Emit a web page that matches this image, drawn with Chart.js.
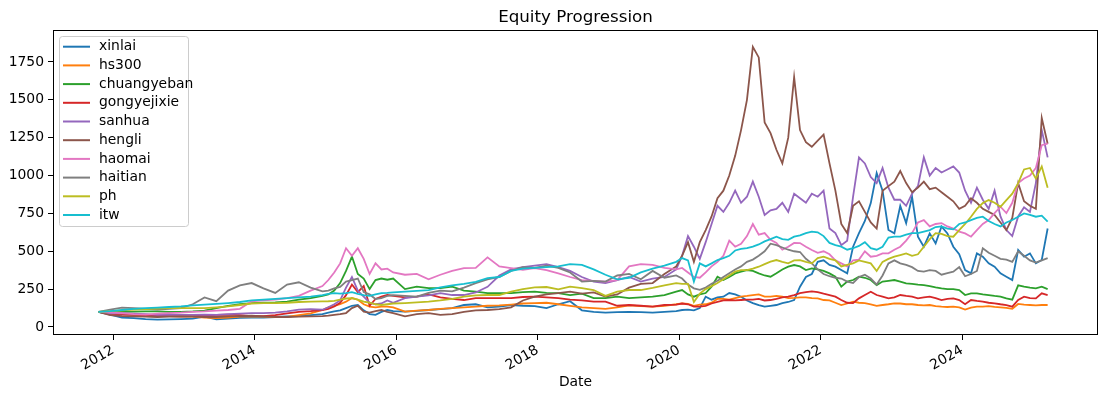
<!DOCTYPE html>
<html>
<head>
<meta charset="utf-8">
<script src="https://cdn.jsdelivr.net/npm/chart.js@4.4.1/dist/chart.umd.min.js"></script>
<style>
  body { margin: 0; background: #fff; }
  #wrap { width: 1110px; height: 393px; }
</style>
</head>
<body>
<div id="wrap"><canvas id="equityChart" width="1110" height="393"></canvas></div>
<script>
// sample dates (bi-monthly early, monthly for 2015 and from 2020)
const dates = [
  '2011-10', '2011-12',
  '2012-02', '2012-04', '2012-06', '2012-08', '2012-10', '2012-12',
  '2013-02', '2013-04', '2013-06', '2013-08', '2013-10', '2013-12',
  '2014-02', '2014-04', '2014-06', '2014-08', '2014-10', '2014-12',
  '2015-01', '2015-02', '2015-03', '2015-04', '2015-05', '2015-06', '2015-07', '2015-08', '2015-09', '2015-10', '2015-11', '2015-12',
  '2016-02', '2016-04', '2016-06', '2016-08', '2016-10', '2016-12',
  '2017-02', '2017-04', '2017-06', '2017-08', '2017-10', '2017-12',
  '2018-02', '2018-04', '2018-06', '2018-08', '2018-10', '2018-12',
  '2019-02', '2019-04', '2019-06', '2019-08', '2019-10', '2019-12',
  '2020-01', '2020-02', '2020-03', '2020-04', '2020-05', '2020-06', '2020-07', '2020-08', '2020-09', '2020-10', '2020-11', '2020-12',
  '2021-01', '2021-02', '2021-03', '2021-04', '2021-05', '2021-06', '2021-07', '2021-08', '2021-09', '2021-10', '2021-11', '2021-12',
  '2022-01', '2022-02', '2022-03', '2022-04', '2022-05', '2022-06', '2022-07', '2022-08', '2022-09', '2022-10', '2022-11', '2022-12',
  '2023-01', '2023-02', '2023-03', '2023-04', '2023-05', '2023-06', '2023-07', '2023-08', '2023-09', '2023-10', '2023-11', '2023-12',
  '2024-01', '2024-02', '2024-03', '2024-04', '2024-05', '2024-06', '2024-07', '2024-08', '2024-09', '2024-10', '2024-11', '2024-12',
  '2025-01', '2025-02', '2025-03'
];

const xinlai = [
  100, 82,
  62, 58, 52, 48, 50, 52,
  55, 68, 50, 55, 60, 62,
  62, 66, 70, 72, 78, 85,
  95, 103, 110, 125, 140, 145, 110, 85, 80, 100, 112, 105,
  101, 106, 112, 118, 125, 145,
  150, 130, 134, 145, 140, 138,
  125, 150, 170, 110, 100, 95,
  98, 100, 98, 95, 100, 105,
  112, 115, 110, 125, 200, 180, 195, 200, 224, 215, 200, 175,
  158, 145, 134, 140, 145, 158, 165, 178, 266, 330, 350, 430,
  440, 410, 398, 376, 354, 530, 620, 700, 818, 1016, 900, 640,
  618, 800, 686, 860, 596, 530, 618, 552, 664, 618, 530, 480,
  376, 354, 486, 464, 420, 398, 354, 332, 310, 508, 464, 486,
  420, 442, 650
];
const hs300 = [
  100, 88,
  85, 82, 78, 74, 72, 70,
  68, 62, 59, 62, 68, 70,
  68, 66, 66, 78, 90, 112,
  130, 140, 150, 167, 191, 180, 150, 134, 130, 134, 135, 130,
  101, 108, 112, 120, 125, 130,
  134, 140, 142, 148, 155, 158,
  160, 150, 140, 130, 125, 120,
  130, 142, 138, 135, 140, 150,
  156, 152, 140, 148, 150, 160, 185, 185, 180, 190, 200, 205,
  211, 215, 200, 200, 205, 200, 190, 192, 195, 195, 190, 189,
  178, 175, 160, 145, 155, 167, 160, 158, 150, 140, 145, 150,
  156, 155, 150, 150, 145, 142, 145, 138, 134, 132, 134, 130,
  115, 128, 134, 134, 138, 133, 130, 126, 120, 152, 148, 145,
  142, 145, 145
];
const chuangyeban = [
  100, 98,
  100, 102, 103, 103, 100, 100,
  103, 108, 125, 140, 150, 158,
  160, 163, 168, 180, 191, 205,
  215, 240, 290, 370, 465, 350, 320, 250, 310, 320, 312, 320,
  250, 266, 257, 257, 266, 240,
  233, 224, 224, 224, 230, 233,
  225, 224, 211, 220, 191, 191,
  200, 191, 195, 200, 211, 233,
  244, 215, 200, 215, 224, 266, 332, 310, 330, 354, 365, 376,
  370, 354, 340, 332, 355, 380, 398, 409, 400, 376, 387, 380,
  370, 354, 332, 266, 300, 310, 332, 325, 310, 277, 300, 305,
  310, 300, 288, 285, 280, 277, 270, 262, 255, 250, 250, 244,
  211, 222, 222, 215, 211, 205, 200, 189, 180, 275, 266, 260,
  255, 266, 250
];
const gongyejixie = [
  100, 88,
  82, 80, 78, 75, 72, 70,
  72, 75, 80, 82, 78, 72,
  72, 78, 90, 100, 105, 112,
  120, 135, 160, 210, 280, 230, 270, 140, 185, 200, 211, 205,
  195, 200, 215, 195, 185, 178,
  190, 191, 191, 191, 198, 200,
  195, 191, 180, 175, 167, 167,
  140, 145, 140, 135, 145, 148,
  155, 150, 135, 135, 140, 155, 165, 175, 178, 175, 178, 180,
  180, 185, 175, 178, 185, 195, 200, 210, 224, 230, 235, 230,
  220, 211, 200, 178, 160, 158, 189, 211, 233, 211, 200, 189,
  195, 211, 205, 200, 189, 195, 200, 190, 178, 185, 189, 178,
  150, 178, 172, 167, 160, 156, 150, 145, 134, 178, 200, 190,
  189, 222, 211
];
const sanhua = [
  100, 90,
  92, 88, 85, 80, 82, 80,
  80, 82, 80, 85, 88, 92,
  92, 95, 103, 115, 118, 114,
  130, 150, 175, 260, 330, 240, 200, 160, 150, 155, 175, 160,
  190, 200, 208, 224, 211, 211,
  228, 265, 340, 380, 395, 405,
  415, 395, 370, 330, 300, 290,
  310, 330, 300, 320, 330, 380,
  470, 600, 530, 450, 560, 680, 800, 760, 820, 900, 820, 860,
  960, 860, 740, 770, 780, 820, 760, 880, 850, 820, 880, 860,
  900, 650, 620, 540, 570, 860, 1120, 1080, 990, 950, 1050, 920,
  840, 840, 800, 880, 930, 1120, 1000, 1050, 1020, 1040, 1060, 1020,
  900, 820, 920, 840, 780, 900, 730, 640, 600, 730, 790, 760,
  950, 1300, 1120
];
const hengli = [
  100, 78,
  72, 70, 68, 66, 68, 70,
  68, 66, 66, 70, 72, 74,
  70, 66, 66, 68, 70, 72,
  75, 80, 85, 92, 125, 140, 101, 95, 105, 112, 100, 92,
  70, 85, 92, 80, 85, 100,
  110, 112, 118, 130, 175, 200,
  215, 224, 233, 220, 228, 200,
  215, 260, 285, 290, 350, 400,
  470, 560, 430, 560, 640, 730, 850, 900, 1000, 1130, 1300, 1500,
  1850, 1780, 1350, 1280, 1170, 1080, 1250, 1650, 1300, 1220, 1190, 1230,
  1270, 1080, 900, 680, 620, 800, 830, 760, 690, 650, 900, 930,
  960, 1030, 950, 890, 920, 960, 910, 920, 890, 860, 830, 780,
  800, 850, 820, 780, 760, 740, 690, 640, 720, 950, 830, 800,
  780, 1380, 1210
];
const haomai = [
  100, 95,
  92, 85, 82, 88, 92, 95,
  100, 103, 108, 112, 120, 170,
  175, 180, 190, 205, 240, 270,
  310, 360, 420, 520, 470, 520, 450, 350, 420, 380, 385, 360,
  345, 350, 315, 345, 370, 389,
  390, 460, 400, 389, 378, 389,
  375, 354, 330, 310, 305, 300,
  310, 400, 415, 410, 390, 380,
  390, 360, 330, 325, 360, 400, 430, 470, 570, 530, 550, 600,
  680, 610, 620, 575, 555, 510, 530, 555, 554, 530, 508, 490,
  500, 480, 440, 420, 400, 440, 445, 500, 464, 470, 486, 486,
  510, 530, 570, 620, 690, 706, 664, 680, 686, 664, 650, 630,
  618, 596, 640, 680, 706, 752, 794, 752, 820, 950, 980, 1000,
  1050, 1200, 1210
];
const haitian = [
  100, 115,
  128, 125, 120, 115, 120, 125,
  150, 195, 170, 240, 275, 290,
  255, 225, 280, 295, 260, 235,
  240, 255, 265, 300, 310, 320, 230, 215, 185, 190, 205, 210,
  205, 200, 225, 240, 235, 260,
  290, 315, 330, 370, 395, 390,
  405, 390, 360, 300, 305, 300,
  340, 350, 315, 370, 325, 340,
  320, 280, 255, 245, 260, 285, 305, 330, 355, 380, 400, 430,
  445, 470, 500, 550, 540, 525, 510, 500, 495, 450, 420, 380,
  350, 335, 325, 320, 300, 290, 330, 345, 320, 280, 340, 420,
  440, 420, 410, 395, 370, 365, 375, 370, 345, 355, 365, 395,
  335, 350, 370, 520, 490, 470, 450, 445, 430, 500, 470, 440,
  425, 440, 455
];
const ph = [
  100, 105,
  110, 114, 118, 122, 125, 125,
  125, 125, 130, 136, 145, 155,
  158, 158, 160, 165, 168, 169,
  170, 172, 180, 188, 191, 180, 167, 160, 150, 145, 150, 155,
  158, 162, 167, 175, 185, 200,
  208, 211, 211, 233, 250, 262,
  264, 248, 266, 257, 244, 205,
  233, 244, 244, 258, 275, 290,
  285, 285, 165, 220, 250, 270, 290, 315, 340, 365, 375, 376,
  385, 398, 415, 431, 442, 430, 420, 440, 442, 430, 420, 455,
  464, 450, 440, 400, 410, 420, 440, 430, 420, 370, 430, 450,
  464, 475, 486, 470, 480, 530, 580, 620, 615, 600, 596, 640,
  680, 728, 780, 818, 838, 820, 794, 838, 880, 950, 1040, 1050,
  980, 1060, 920
];
const itw = [
  100, 104,
  112, 120, 125, 128, 132, 136,
  142, 147, 152, 158, 165, 175,
  180, 185, 190, 195, 200, 210,
  218, 224, 220, 224, 230, 218, 211, 205, 215, 224, 225, 228,
  233, 238, 244, 262, 275, 285,
  298, 323, 330, 370, 385, 390,
  395, 400, 415, 410, 380, 345,
  315, 325, 360, 385, 405, 430,
  455, 440, 300, 420, 400, 420, 442, 455, 470, 505, 515, 520,
  530, 545, 565, 580, 596, 580, 575, 596, 605, 620, 630, 625,
  600, 555, 540, 530, 510, 520, 535, 560, 520, 510, 530, 590,
  596, 596, 610, 620, 620, 630, 640, 660, 664, 650, 645, 680,
  690, 706, 720, 728, 700, 680, 664, 690, 706, 728, 750, 740,
  728, 735, 696
];

const seriesNames = ['xinlai', 'hs300', 'chuangyeban', 'gongyejixie', 'sanhua', 'hengli', 'haomai', 'haitian', 'ph', 'itw'];
const seriesValues = [xinlai, hs300, chuangyeban, gongyejixie, sanhua, hengli, haomai, haitian, ph, itw];
const colors = ['#1f77b4', '#ff7f0e', '#2ca02c', '#d62728', '#9467bd', '#8c564b', '#e377c2', '#7f7f7f', '#bcbd22', '#17becf'];

const xTicks = [2012, 2014, 2016, 2018, 2020, 2022, 2024];
const yTicks = [0, 250, 500, 750, 1000, 1250, 1500, 1750];

const FONT = "'DejaVu Sans', sans-serif";

// 'YYYY-MM' -> fractional year (mid month)
function toYear(s) {
    const [y, m] = s.split('-').map(Number);
    return y + (m - 0.5) / 12;
}
const xs = dates.map(toYear);

const datasets = seriesNames.map((name, i) => ({
    label: name,
    data: seriesValues[i].map((v, j) => ({ x: xs[j], y: v })),
    borderColor: colors[i],
    backgroundColor: colors[i],
    borderWidth: 1.8,
    pointRadius: 0,
    tension: 0,
    order: seriesNames.length - i
}));

// frame, title, axis label and matplotlib-like legend
const decorPlugin = {
    id: 'decor',
    afterDatasetsDraw(chart) {
        const ctx = chart.ctx;
        const a = chart.chartArea;
        ctx.save();

        // legend box
        const lx = 59.5, ly = 36.5, lw = 129, lh = 190;
        ctx.fillStyle = 'rgba(255,255,255,0.8)';
        ctx.strokeStyle = '#cccccc';
        ctx.lineWidth = 1;
        ctx.beginPath();
        ctx.roundRect(lx, ly, lw, lh, 3);
        ctx.fill();
        ctx.stroke();
        ctx.font = '13.9px ' + FONT;
        ctx.textBaseline = 'middle';
        ctx.textAlign = 'left';
        seriesNames.forEach((name, i) => {
            const y = 46.7 + i * 18.7;
            ctx.strokeStyle = colors[i];
            ctx.lineWidth = 2;
            ctx.beginPath();
            ctx.moveTo(63, y);
            ctx.lineTo(90, y);
            ctx.stroke();
            ctx.fillStyle = '#000';
            ctx.fillText(name, 99, y);
        });

        // frame
        ctx.strokeStyle = '#000';
        ctx.lineWidth = 1;
        ctx.strokeRect(a.left + 0.5, a.top + 0.5, a.right - a.left - 1, a.bottom - a.top - 1);

        // title and x label
        ctx.fillStyle = '#000';
        ctx.textAlign = 'center';
        ctx.textBaseline = 'alphabetic';
        ctx.font = '16.7px ' + FONT;
        ctx.fillText('Equity Progression', (a.left + a.right) / 2, 22);
        ctx.font = '13.9px ' + FONT;
        ctx.fillText('Date', (a.left + a.right) / 2, 386);
        ctx.restore();
    }
};

new Chart(document.getElementById('equityChart').getContext('2d'), {
    type: 'line',
    data: { datasets: datasets },
    options: {
        responsive: false,
        animation: false,
        layout: { padding: { top: 30, right: 12, left: 0, bottom: 0 } },
        plugins: {
            legend: { display: false },
            tooltip: { enabled: false },
            title: { display: false }
        },
        scales: {
            x: {
                type: 'linear',
                min: 2011.15,
                max: 2025.92,
                border: { display: false },
                grid: { drawOnChartArea: false, drawTicks: true, tickLength: 5, tickColor: '#000', tickWidth: 1 },
                afterBuildTicks: axis => { axis.ticks = xTicks.map(v => ({ value: v })); },
                afterFit: axis => { axis.height = 58; },
                ticks: {
                    autoSkip: false,
                    minRotation: 30,
                    maxRotation: 30,
                    padding: 2,
                    color: '#000',
                    font: { family: FONT, size: 13.9 },
                    callback: v => String(v)
                }
            },
            y: {
                min: -53,
                max: 1961,
                border: { display: false },
                grid: { drawOnChartArea: false, drawTicks: true, tickLength: 5, tickColor: '#000', tickWidth: 1 },
                afterBuildTicks: axis => { axis.ticks = yTicks.map(v => ({ value: v })); },
                afterFit: axis => { axis.width = 53; },
                ticks: {
                    padding: 4,
                    color: '#000',
                    font: { family: FONT, size: 13.9 },
                    callback: v => String(v)
                }
            }
        }
    },
    plugins: [decorPlugin]
});
</script>
</body>
</html>
